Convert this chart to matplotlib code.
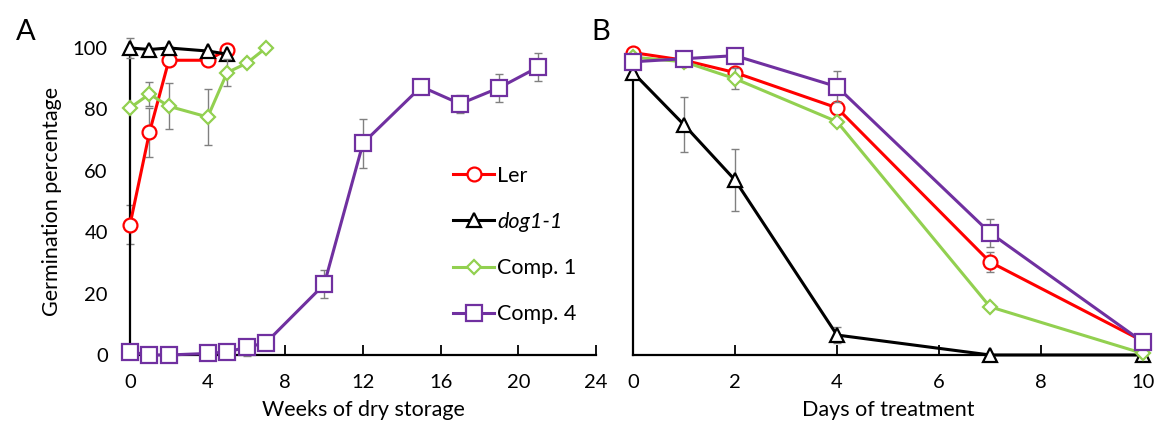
import matplotlib
matplotlib.use("Agg")
import matplotlib.pyplot as plt

plt.rcParams["font.family"] = ["Lato", "DejaVu Sans"]

# ── Panel A: weeks of dry storage ──
weeks_ler = [0, 1, 2, 4, 5]
ler_a = [42.5, 72.5, 96, 96, 99.5]
ler_a_err = [6.5, 8, 0.5, 1, 0.5]

weeks_dog = [0, 1, 2, 4, 5]
dog_a = [100, 99.5, 100, 99, 98]
dog_a_err = [3.3, 0.5, 0.5, 0.5, 0.5]

weeks_c1 = [0, 1, 2, 4, 5, 6, 7]
comp1_a = [80.5, 85, 81, 77.5, 92, 95, 100]
comp1_a_err = [0, 4, 7.5, 9, 4.5, 0, 0]

weeks_c4 = [0, 1, 2, 4, 5, 6, 7, 10, 12, 15, 17, 19, 21]
comp4_a = [1, 0, 0, 0.5, 1, 2.5, 4, 23, 69, 87.4, 81.8, 87, 93.7]
comp4_a_err = [0, 0, 0, 0, 0.5, 2.7, 2, 4.6, 8, 0.5, 3, 4.5, 4.5]

# ── Panel B: days of treatment ──
days = [0, 1, 2, 4, 7, 10]
ler_b = [98.5, 96, 92, 80.5, 30.3, 4.5]
ler_b_err = [1, 1, 1, 2, 3.3, 0.5]
dog_b = [92, 75, 57, 6.5, 0, 0]
dog_b_err = [0, 9, 10, 2.5, 0, 0]
comp1_b = [97, 95.5, 90, 76, 15.7, 0.5]
comp1_b_err = [0.5, 1, 3.5, 1, 0.5, 0.5]
comp4_b = [95.5, 96.5, 97.5, 87.4, 39.8, 4.2]
comp4_b_err = [1, 1, 2, 5, 4.5, 0.5]

labels = ["Ler", "dog1-1", "Comp. 1", "Comp. 4"]
colors = ["#FF0000", "#000000", "#92D050", "#7030A0"]
markers = ["o", "^", "D", "s"]
msizes = [10, 10.5, 7.5, 11]


def draw_series(ax, x, y, err, i):
    ax.errorbar(x, y, yerr=err, fmt="none", ecolor="#808080", elinewidth=1,
                capsize=3, capthick=1, zorder=2 + i, clip_on=False)
    ax.plot(x, y, color=colors[i], linewidth=2.2, marker=markers[i],
            markersize=msizes[i], markerfacecolor="white",
            markeredgecolor=colors[i], markeredgewidth=1.6,
            label=labels[i], zorder=3 + i, clip_on=False)


def style_axis(ax, xmax, xstep, show_ylabels):
    ax.set_xlim(0, xmax)
    ax.set_ylim(0, 100)
    ax.set_xticks(range(0, xmax + 1, xstep))
    ax.set_yticks(range(0, 101, 20))
    for side in ["top", "right"]:
        ax.spines[side].set_visible(False)
    ax.spines["left"].set_linewidth(1.6)
    ax.spines["bottom"].set_linewidth(1.6)
    ax.tick_params(axis="x", direction="in", length=7, width=1.3,
                   pad=14, labelsize=14.5)
    ax.tick_params(axis="y", length=0, pad=16, labelsize=14.5,
                   labelleft=show_ylabels)


fig = plt.figure(figsize=(11.58, 4.26), dpi=100)
ax1 = fig.add_axes([0.1123, 0.1667, 0.4024, 0.7207])
ax2 = fig.add_axes([0.5466, 0.1667, 0.4404, 0.7207])

draw_series(ax1, weeks_ler, ler_a, ler_a_err, 0)
draw_series(ax1, weeks_dog, dog_a, dog_a_err, 1)
draw_series(ax1, weeks_c1, comp1_a, comp1_a_err, 2)
draw_series(ax1, weeks_c4, comp4_a, comp4_a_err, 3)
style_axis(ax1, 24, 4, True)
ax1.set_xlabel("Weeks of dry storage", fontsize=15.5, labelpad=6)
ax1.set_ylabel("Germination percentage", fontsize=15.5, labelpad=8)

draw_series(ax2, days, ler_b, ler_b_err, 0)
draw_series(ax2, days, dog_b, dog_b_err, 1)
draw_series(ax2, days, comp1_b, comp1_b_err, 2)
draw_series(ax2, days, comp4_b, comp4_b_err, 3)
style_axis(ax2, 10, 2, False)
ax2.set_xlabel("Days of treatment", fontsize=15.5, labelpad=6)

leg = ax1.legend(loc="upper left", bbox_to_anchor=(0.675, 0.645), frameon=False,
                 fontsize=15.5, handlelength=1.9, handletextpad=0.15,
                 labelspacing=1.22, borderaxespad=0)
leg.get_texts()[1].set_fontstyle("italic")

fig.text(0.014, 0.905, "A", fontsize=21)
fig.text(0.511, 0.905, "B", fontsize=21)

fig.savefig("out.png", dpi=100)
